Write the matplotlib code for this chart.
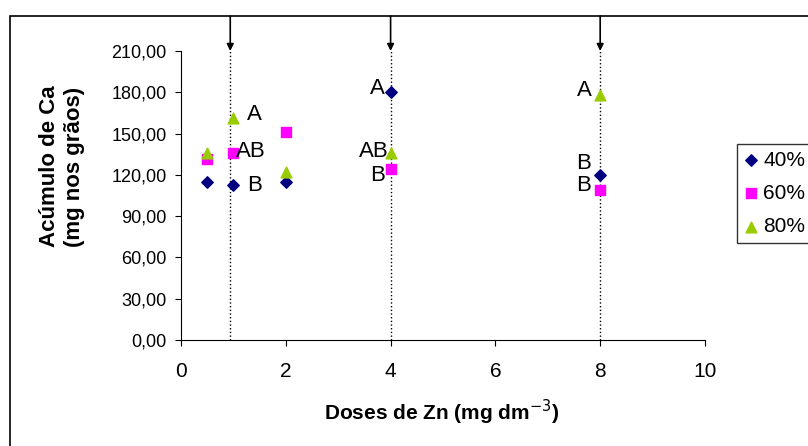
import matplotlib.pyplot as plt
from matplotlib.patches import Rectangle

doses = [0.5, 1, 2, 4, 8]
ca_40 = [115, 112.5, 115, 180, 120]
ca_60 = [131.5, 136, 151, 124, 109]
ca_80 = [136, 161, 122, 136, 178]

arrow_x = [0.94, 4, 8]

letters = ["A", "AB", "B", "A", "AB", "B", "A", "B", "B"]
letter_x = [1.41, 1.34, 1.41, 3.74, 3.68, 3.76, 7.69, 7.69, 7.69]
letter_y = [163.5, 136.6, 112.6, 182.4, 137.3, 119.2, 181, 128.6, 112.6]

FONT = 'Liberation Sans'

fig = plt.figure(figsize=(8.08, 4.46), dpi=100)
ax = fig.add_axes([0.224, 0.2377, 0.6485, 0.6480])

# outer chart frame (cropped on right/bottom)
fig.patches.append(Rectangle((0.0124, -0.1), 1.2, 1.064, transform=fig.transFigure,
                             fill=False, edgecolor='black', linewidth=1.2))

ax.scatter(doses, ca_40, marker='D', s=34, color='#000080', label='40%', zorder=3)
ax.scatter(doses, ca_60, marker='s', s=42, color='#FF00FF', label='60%', zorder=3)
ax.scatter(doses, ca_80, marker='^', s=60, color='#99CC00', label='80%', zorder=3)

ax.vlines(arrow_x, 0, 210, colors='black', linestyles=':', linewidth=1, zorder=1)
for xv in arrow_x:
    ax.annotate('', xy=(xv, 210), xycoords='data',
                xytext=(xv, 0.964), textcoords=('data', 'figure fraction'),
                arrowprops=dict(arrowstyle='-|>', color='black', lw=1.2,
                                mutation_scale=10, shrinkA=0, shrinkB=0),
                annotation_clip=False)

for t, xv, yv in zip(letters, letter_x, letter_y):
    ax.text(xv, yv, t, fontsize=16, ha='center', va='center', family=FONT)

ax.set_xlim(0, 10)
ax.set_ylim(0, 210)
ax.set_xticks([0, 2, 4, 6, 8, 10])
ax.set_yticks(range(0, 211, 30))
ax.set_yticklabels([f"{v},00" for v in range(0, 211, 30)])
ax.tick_params(direction='out', length=4.5)
ax.tick_params(axis='x', labelsize=15, pad=11)
ax.tick_params(axis='y', labelsize=13, pad=6)
for lab in ax.get_xticklabels() + ax.get_yticklabels():
    lab.set_family(FONT)

ax.spines['top'].set_visible(False)
ax.spines['right'].set_visible(False)

ax.set_xlabel('Doses de Zn (mg dm$^{-3}$)', fontsize=15, fontweight='bold', family=FONT)
ax.set_ylabel('Acúmulo de Ca\n(mg nos grãos)', fontsize=16, fontweight='bold', family=FONT)
ax.xaxis.set_label_coords(0.498, -0.249)
ax.xaxis.label.set_verticalalignment('center')
ax.yaxis.set_label_coords(-0.227, 0.6)
ax.yaxis.label.set_verticalalignment('center')

leg = ax.legend(loc='upper left', bbox_to_anchor=(737 / 808, 1 - 144 / 446),
                bbox_transform=fig.transFigure,
                frameon=True, fancybox=False, edgecolor='black',
                handletextpad=0.2, handlelength=0.75, borderpad=0.32,
                labelspacing=0.68, borderaxespad=0,
                prop={'family': FONT, 'size': 15})
leg.get_frame().set_linewidth(1)

fig.savefig('out.png', dpi=100)
